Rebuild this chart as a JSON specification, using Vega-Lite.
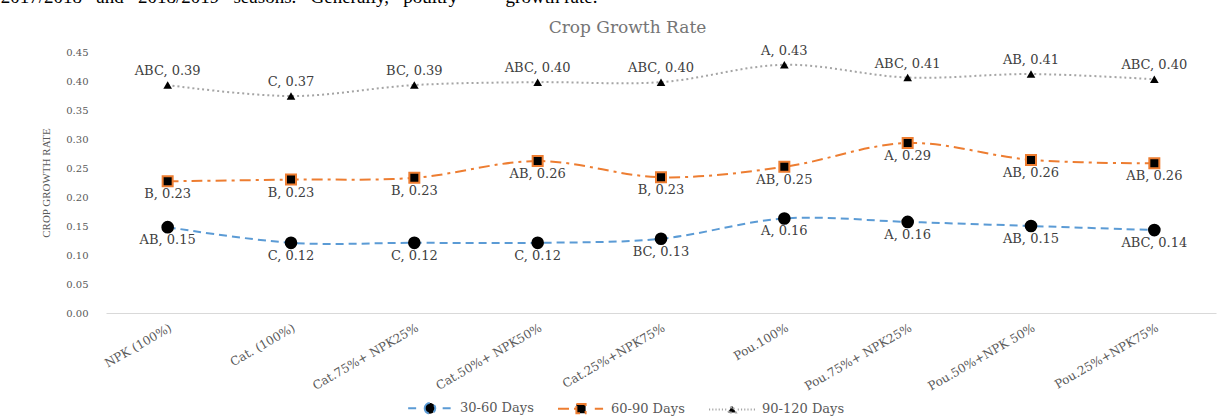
{
  "$schema": "https://vega.github.io/schema/vega-lite/v6.json",
  "width": 1110,
  "height": 261,
  "autosize": {"type": "none"},
  "padding": {"left": 106, "top": 52, "right": 16, "bottom": 104},
  "background": "white",
  "config": {
    "view": {"stroke": null},
    "axis": {"grid": false, "ticks": false, "labelFont": "DejaVu Serif", "labelColor": "#595959", "titleFont": "Liberation Serif", "titleFontWeight": "normal", "titleColor": "#595959"},
    "axisY": {"labelOverlap": false},
    "text": {"font": "DejaVu Serif", "fontSize": 13, "fill": "#404040"},
    "legend": {"orient": "none", "legendX": 300, "legendY": 332, "direction": "horizontal", "symbolSize": 2116, "symbolStrokeWidth": 1.5, "symbolFillColor": "black", "symbolOpacity": 1, "labelFont": "DejaVu Serif", "labelFontSize": 13, "labelColor": "#595959", "labelOffset": 6, "columnPadding": 20, "padding": 0}
  },
  "title": {
    "text": "2017/2018\u00a0\u00a0 and\u00a0\u00a0 2018/2019\u00a0\u00a0 seasons.\u00a0\u00a0 Generally,\u00a0\u00a0 poultry\u00a0\u00a0\u00a0\u00a0\u00a0\u00a0\u00a0\u00a0\u00a0 growth rate.",
    "anchor": "start",
    "frame": "bounds",
    "font": "Liberation Serif",
    "fontSize": 19,
    "fontWeight": "normal",
    "color": "black",
    "baseline": "alphabetic",
    "offset": -4,
    "dx": -40
  },
  "data": {
    "values": [
      {"cat": "NPK (100%)", "series": "30-60 Days", "value": 0.148, "label": "AB, 0.15"},
      {"cat": "Cat. (100%)", "series": "30-60 Days", "value": 0.121, "label": "C, 0.12"},
      {"cat": "Cat.75%+ NPK25%", "series": "30-60 Days", "value": 0.121, "label": "C, 0.12"},
      {"cat": "Cat.50%+ NPK50%", "series": "30-60 Days", "value": 0.121, "label": "C, 0.12"},
      {"cat": "Cat.25%+NPK75%", "series": "30-60 Days", "value": 0.128, "label": "BC, 0.13"},
      {"cat": "Pou.100%", "series": "30-60 Days", "value": 0.163, "label": "A, 0.16"},
      {"cat": "Pou.75%+ NPK25%", "series": "30-60 Days", "value": 0.157, "label": "A, 0.16"},
      {"cat": "Pou.50%+NPK 50%", "series": "30-60 Days", "value": 0.150, "label": "AB, 0.15"},
      {"cat": "Pou.25%+NPK75%", "series": "30-60 Days", "value": 0.143, "label": "ABC, 0.14"},
      {"cat": "NPK (100%)", "series": "60-90 Days", "value": 0.227, "label": "B, 0.23"},
      {"cat": "Cat. (100%)", "series": "60-90 Days", "value": 0.230, "label": "B, 0.23"},
      {"cat": "Cat.75%+ NPK25%", "series": "60-90 Days", "value": 0.233, "label": "B, 0.23"},
      {"cat": "Cat.50%+ NPK50%", "series": "60-90 Days", "value": 0.262, "label": "AB, 0.26"},
      {"cat": "Cat.25%+NPK75%", "series": "60-90 Days", "value": 0.234, "label": "B, 0.23"},
      {"cat": "Pou.100%", "series": "60-90 Days", "value": 0.252, "label": "AB, 0.25"},
      {"cat": "Pou.75%+ NPK25%", "series": "60-90 Days", "value": 0.293, "label": "A, 0.29"},
      {"cat": "Pou.50%+NPK 50%", "series": "60-90 Days", "value": 0.264, "label": "AB, 0.26"},
      {"cat": "Pou.25%+NPK75%", "series": "60-90 Days", "value": 0.258, "label": "AB, 0.26"},
      {"cat": "NPK (100%)", "series": "90-120 Days", "value": 0.393, "label": "ABC, 0.39"},
      {"cat": "Cat. (100%)", "series": "90-120 Days", "value": 0.374, "label": "C, 0.37"},
      {"cat": "Cat.75%+ NPK25%", "series": "90-120 Days", "value": 0.393, "label": "BC, 0.39"},
      {"cat": "Cat.50%+ NPK50%", "series": "90-120 Days", "value": 0.398, "label": "ABC, 0.40"},
      {"cat": "Cat.25%+NPK75%", "series": "90-120 Days", "value": 0.398, "label": "ABC, 0.40"},
      {"cat": "Pou.100%", "series": "90-120 Days", "value": 0.428, "label": "A, 0.43"},
      {"cat": "Pou.75%+ NPK25%", "series": "90-120 Days", "value": 0.406, "label": "ABC, 0.41"},
      {"cat": "Pou.50%+NPK 50%", "series": "90-120 Days", "value": 0.412, "label": "AB, 0.41"},
      {"cat": "Pou.25%+NPK75%", "series": "90-120 Days", "value": 0.403, "label": "ABC, 0.40"}
    ]
  },
  "encoding": {
    "y": {"field": "value", "type": "quantitative", "scale": {"domain": [0, 0.45], "nice": false},
      "axis": {"values": [0, 0.05, 0.1, 0.15, 0.2, 0.25, 0.3, 0.35, 0.4, 0.45], "format": ".2f", "domain": false, "labelFontSize": 10, "labelPadding": 18, "labelOverlap": false, "title": "CROP GROWTH RATE", "titleFontSize": 11, "titlePadding": 14}}
  },
  "resolve": {"axis": {"x": "independent"}},
  "layer": [
    {
      "mark": {"type": "point", "filled": true, "fill": "black", "size": 1},
      "encoding": {
        "x": {"field": "cat", "type": "nominal", "sort": null, "scale": {"type": "point", "padding": 0.5}, "axis": null},
        "shape": {"field": "series", "type": "nominal", "scale": {"domain": ["30-60 Days", "60-90 Days", "90-120 Days"], "range": [
          "M-0.95,0L-0.55,0M0.55,0L0.95,0M-0.23,0A0.23,0.23,0,1,1,0.23,0A0.23,0.23,0,1,1,-0.23,0Z",
          "M-1,0L-0.2,0M-0.2,-0.2L0.2,-0.2L0.2,0.2L-0.2,0.2ZM0.6,0L0.96,0",
          "M-1,0L-0.95,0M-0.86,0L-0.81,0M-0.72,0L-0.67,0M-0.58,0L-0.53,0M-0.44,0L-0.39,0M-0.3,0L-0.25,0M-0.17,0.14L0,-0.16L0.17,0.14ZM0.25,0L0.3,0M0.39,0L0.44,0M0.53,0L0.58,0M0.67,0L0.72,0M0.81,0L0.86,0M0.95,0L1,0"
        ]}, "legend": {"title": null}},
        "stroke": {"field": "series", "type": "nominal", "scale": {"domain": ["30-60 Days", "60-90 Days", "90-120 Days"], "range": ["#5B9BD5", "#ED7D31", "#A5A5A5"]}, "legend": {"title": null}}
      }
    },
    {
      "mark": {"type": "line", "interpolate": "catmull-rom"},
      "encoding": {
        "x": {"field": "cat", "type": "nominal", "sort": null,
          "axis": {"orient": "bottom", "title": null, "labelAngle": -30, "labelFontSize": 12, "labelPadding": 9, "domain": true, "domainColor": "#d9d9d9", "domainWidth": 1, "labelLimit": 300}},
        "color": {"field": "series", "type": "nominal", "scale": {"domain": ["30-60 Days", "60-90 Days", "90-120 Days"], "range": ["#5B9BD5", "#ED7D31", "#A5A5A5"]}, "legend": null},
        "strokeDash": {"field": "series", "type": "nominal", "scale": {"domain": ["30-60 Days", "60-90 Days", "90-120 Days"], "range": [[8, 5], [11, 5, 3, 5], [2, 3]]}, "legend": null},
        "strokeWidth": {"field": "series", "type": "ordinal", "scale": {"domain": ["30-60 Days", "60-90 Days", "90-120 Days"], "range": [2, 2, 1.5]}, "legend": null}
      }
    },
    {
      "transform": [{"filter": "datum.series === '30-60 Days'"}],
      "mark": {"type": "point", "shape": "circle", "filled": true, "fill": "black", "size": 160, "opacity": 1},
      "encoding": {
        "x": {"field": "cat", "type": "nominal", "sort": null, "axis": null}
      }
    },
    {
      "transform": [{"filter": "datum.series === '60-90 Days'"}],
      "mark": {"type": "point", "shape": "square", "filled": true, "fill": "black", "stroke": "#ED7D31", "strokeWidth": 2, "size": 100, "opacity": 1},
      "encoding": {
        "x": {"field": "cat", "type": "nominal", "sort": null, "axis": null}
      }
    },
    {
      "transform": [{"filter": "datum.series === '90-120 Days'"}],
      "mark": {"type": "point", "shape": "triangle-up", "filled": true, "fill": "black", "size": 75, "opacity": 1},
      "encoding": {
        "x": {"field": "cat", "type": "nominal", "sort": null, "axis": null}
      }
    },
    {
      "transform": [{"filter": "datum.series !== '90-120 Days'"}],
      "mark": {"type": "text", "dy": 13, "baseline": "middle"},
      "encoding": {
        "x": {"field": "cat", "type": "nominal", "sort": null, "axis": null},
        "text": {"field": "label"}
      }
    },
    {
      "transform": [{"filter": "datum.series === '90-120 Days'"}],
      "mark": {"type": "text", "dy": -14, "baseline": "middle"},
      "encoding": {
        "x": {"field": "cat", "type": "nominal", "sort": null,
          "axis": {"orient": "top", "labels": false, "ticks": false, "domain": false, "title": "Crop Growth Rate", "titleFont": "DejaVu Serif", "titleFontSize": 17, "titleColor": "#757575", "titlePadding": 16, "titleX": 521}},
        "text": {"field": "label"}
      }
    }
  ]
}
